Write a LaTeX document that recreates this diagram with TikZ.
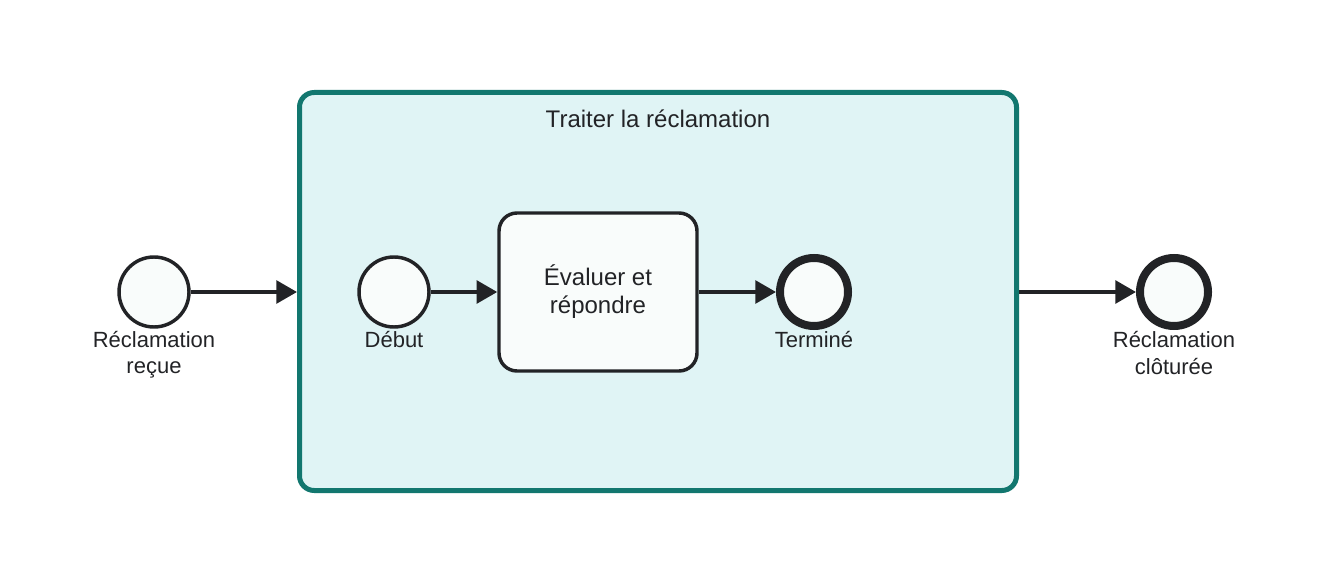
\documentclass[tikz,border=0pt]{standalone}
\usepackage{fontspec}
\setmainfont{Liberation Sans}
\usetikzlibrary{arrows.meta,positioning}
\definecolor{ink}{HTML}{222326}
\definecolor{subteal}{HTML}{12776F}
\definecolor{subfill}{HTML}{E0F4F5}
\definecolor{evfill}{HTML}{F9FCFB}
\begin{document}
\begin{tikzpicture}[x=0.75pt,y=-0.75pt,>={Triangle[length=15.5pt,width=17pt]},
	evt/.style={circle,draw=ink,line width=2.6pt,fill=evfill,minimum size=52.5pt,inner sep=0pt},
	endevt/.style={evt,line width=6pt,minimum size=51pt},
	flow/.style={->,draw=ink,line width=2.9pt},
	lbl/.style={font=\fontsize{16.5}{20}\selectfont,text=ink,align=center,inner sep=0pt}]
	\useasboundingbox (0,0) rectangle (1333,584);
	% sous-processus
	\node[draw=subteal,fill=subfill,line width=3.75pt,rounded corners=11pt,
		minimum width=537.75pt,minimum height=298.5pt,inner sep=0pt] (sub) at (658,291.5) {};
	\node[lbl,font=\fontsize{18}{21.5}\selectfont,anchor=base] (title) at (658,128) {Traiter la réclamation};
	% evenements et tache
	\node[evt] (recue) at (154,292) {};
	\node[evt] (debut) at (394,292) {};
	\node[draw=ink,fill=evfill,line width=2.6pt,rounded corners=13.5pt,minimum width=148.5pt,
		minimum height=118.5pt,inner sep=0pt,align=center,text=ink,
		font=\fontsize{18}{21}\selectfont] (task) at (598,292) {Évaluer et\\répondre\rule[-3pt]{0pt}{0pt}};
	\node[endevt] (term) at (814,292) {};
	\node[endevt] (cloture) at (1174,292) {};
	\node[lbl,below=1.5pt of recue] (recuelbl) {Réclamation\\reçue};
	\node[lbl,below=1.5pt of debut] (debutlbl) {Début};
	\node[lbl,below=1pt of term] (termlbl) {Terminé};
	\node[lbl,below=1pt of cloture] (cloturelbl) {Réclamation\\clôturée};
	% flux
	\draw[flow] (recue.east) -- (recue.east -| sub.west);
	\draw[flow] (debut) -- (task);
	\draw[flow] (task) -- (term);
	\draw[flow] (sub.east |- cloture) -- (cloture);
\end{tikzpicture}
\end{document}
